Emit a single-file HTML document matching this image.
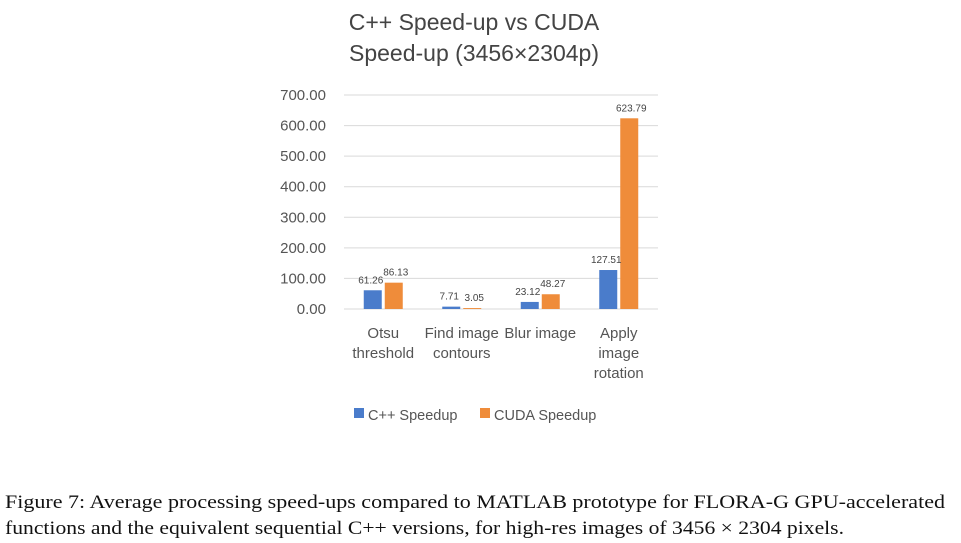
<!DOCTYPE html>
<html><head><meta charset="utf-8"><style>
body{margin:0;background:#fff;width:961px;height:543px;overflow:hidden;position:relative;font-family:"Liberation Sans",sans-serif}
</style></head><body>
<svg id="chart" width="961" height="543" style="position:absolute;left:0;top:0" font-family="Liberation Sans, sans-serif">
<text x="474" y="30" font-size="23" fill="#444" text-anchor="middle">C++ Speed-up vs CUDA</text>
<text x="474" y="61" font-size="23" fill="#444" text-anchor="middle">Speed-up (3456×2304p)</text>
<g id="grid"></g><g id="bars"></g><g id="labels"></g>
<g>
<rect x="354" y="408" width="10" height="10" fill="#4a7ccb"/>
<text x="368" y="420" font-size="14.5" fill="#555">C++ Speedup</text>
<rect x="480" y="408" width="10" height="10" fill="#ef8c3a"/>
<text x="494" y="420" font-size="14.5" fill="#555">CUDA Speedup</text>
</g>
<g font-family="Liberation Serif, serif" font-size="18.5" fill="#111">
<text x="5" y="508" textLength="940" lengthAdjust="spacingAndGlyphs">Figure 7: Average processing speed-ups compared to MATLAB prototype for FLORA-G GPU-accelerated</text>
<text x="5" y="534" textLength="839" lengthAdjust="spacingAndGlyphs">functions and the equivalent sequential C++ versions, for high-res images of 3456 × 2304 pixels.</text>
</g>
</svg>
<script>
const categories=[["Otsu","threshold"],["Find image","contours"],["Blur image"],["Apply","image","rotation"]];
const cppValues=[61.26,7.71,23.12,127.51];
const cudaValues=[86.13,3.05,48.27,623.79];
const tickValues=[0,100,200,300,400,500,600,700];
const NS="http://www.w3.org/2000/svg";
const x0=344,x1=658,y0=309,yTop=95,vmax=700;
const y=v=>y0-(v/vmax)*(y0-yTop);
const band=(x1-x0)/categories.length;
const cx=i=>x0+band*(i+0.5);
function mk(t,a,p){const e=document.createElementNS(NS,t);for(const k in a)e.setAttribute(k,a[k]);p.appendChild(e);return e;}
const grid=document.getElementById('grid'),bars=document.getElementById('bars'),labels=document.getElementById('labels');
tickValues.forEach(v=>{
 const l=mk('line',{x1:x0,x2:x1,y1:y(v),y2:y(v),stroke:'#d9d9d9','stroke-width':1},grid);
 
 
 const t=mk('text',{x:326,y:y(v)+5,'font-size':15,fill:'#555','text-anchor':'end'},grid);
 t.textContent=v.toFixed(2);
 
 
});
const bw=18,gap=3;
categories.forEach((c,i)=>{
 [[cppValues[i],'#4a7ccb',-1],[cudaValues[i],'#ef8c3a',1]].forEach(([v,col,s])=>{
  const bx=s<0?cx(i)-gap/2-bw:cx(i)+gap/2;
  const r=mk('rect',{x:bx,y:y(v),width:bw,height:y0-y(v),fill:col},bars);
  
  
  const t=mk('text',{x:bx+bw/2+(s<0?-2:2),y:y(v)-7,'font-size':10,fill:'#444','text-anchor':'middle'},labels);
  t.textContent=v.toFixed(2);
  
  
 });
 c.forEach((line,j)=>{
  const t=mk('text',{x:cx(i),y:338+j*20,'font-size':15,fill:'#555','text-anchor':'middle'},labels);
  t.textContent=line;
  
  
 });
});
</script>
</body></html>
